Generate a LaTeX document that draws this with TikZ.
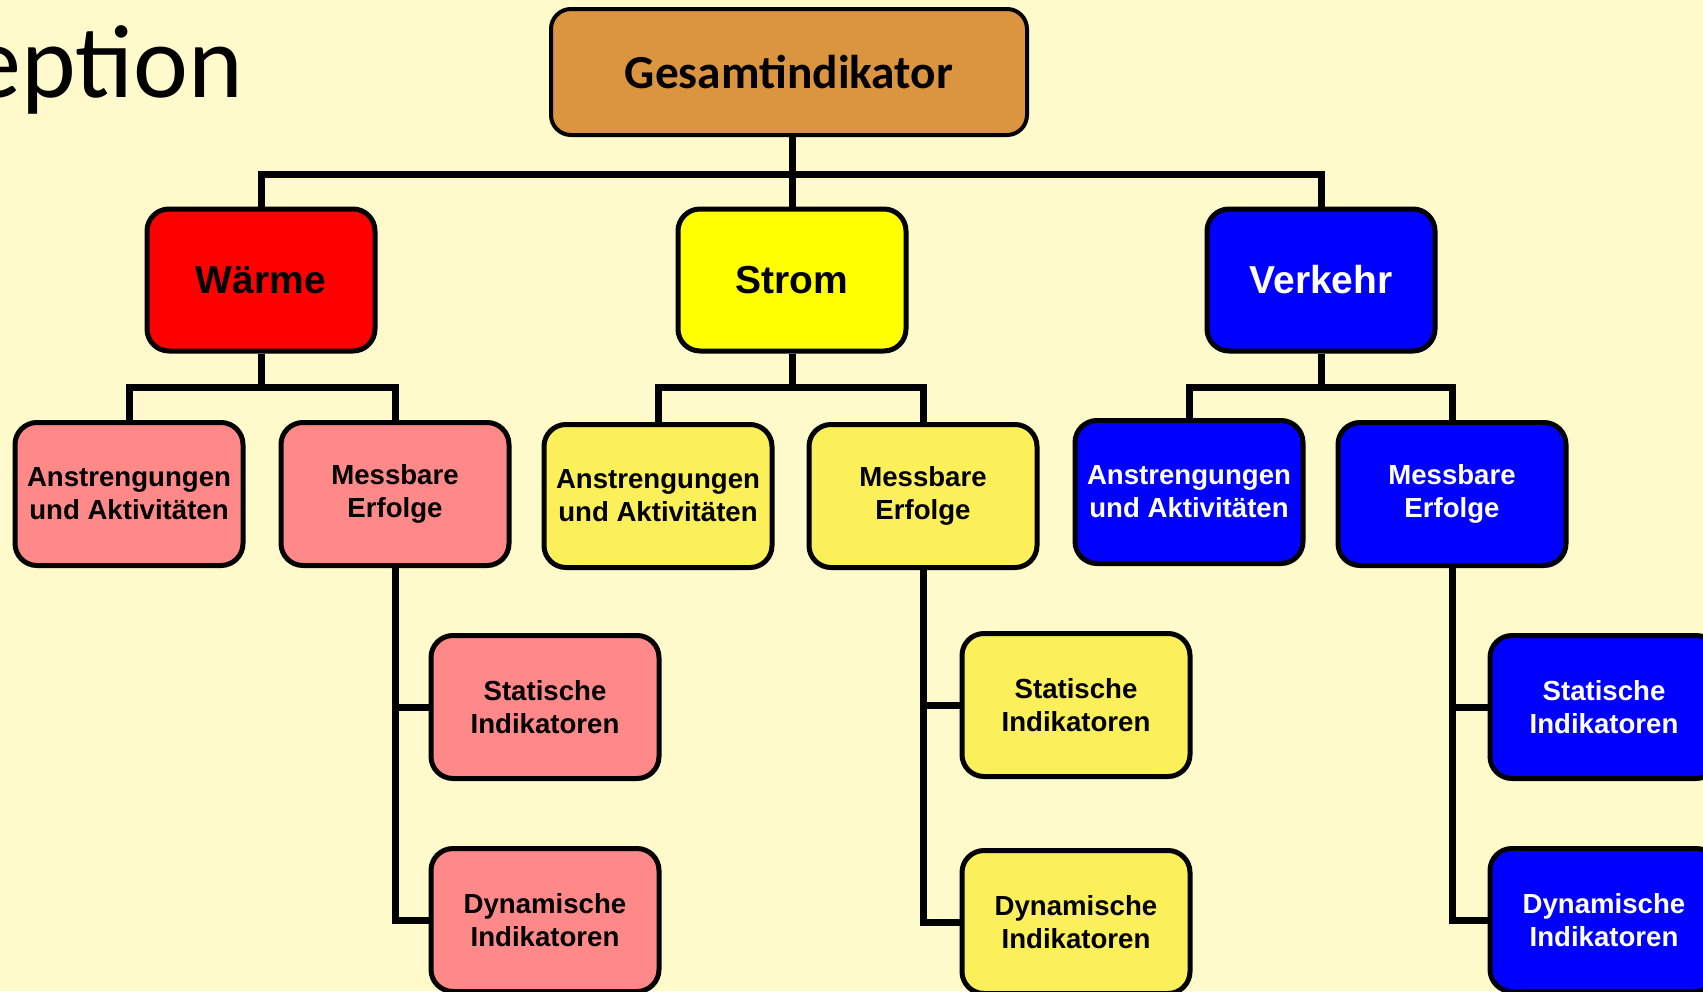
\documentclass[tikz,border=0pt]{standalone}
\usepackage{fontspec}
\setmainfont{Liberation Sans}
\newfontfamily\calfont{Carlito}
\usetikzlibrary{positioning}
\definecolor{bgyellow}{RGB}{255,250,204}
\definecolor{rootorange}{RGB}{219,148,64}
\definecolor{heatred}{RGB}{255,0,0}
\definecolor{heatpink}{RGB}{255,136,136}
\definecolor{powyellow}{RGB}{255,255,0}
\definecolor{powlight}{RGB}{252,240,90}
\definecolor{trafblue}{RGB}{0,0,255}
\tikzset{
    %Define style for boxes
    rootbox/.style={
             rectangle, rounded corners=10pt,
             draw=black, line width=2pt,
             fill=rootorange,
             minimum width=238pt, minimum height=63pt,
             font=\calfont\fontsize{23.7}{28}\selectfont\bfseries},
    sectorbox/.style={
             rectangle, rounded corners=11pt,
             draw=black, line width=2.5pt,
             minimum width=114pt, minimum height=71pt,
             font=\fontsize{19.5}{23}\selectfont\bfseries},
    subbox/.style={
             rectangle, rounded corners=11pt,
             draw=black, line width=2.5pt,
             minimum width=114pt, minimum height=71.5pt,
             align=center, inner sep=1pt,
             font=\fontsize{13.8}{16.5}\selectfont\bfseries},
    % Define connector style
    treeline/.style={
            draw=black,
            line width=3.5pt}
}

\begin{document}
\begin{tikzpicture}[x=0.5pt, y=-0.5pt]
 \fill[bgyellow] (0,0) rectangle (1703,991);
 \useasboundingbox (0,0) rectangle (1703,991);
 \node[anchor=base west, inner sep=0pt, font=\calfont\fontsize{52}{60}\selectfont] (title) at (-31,97) {eption};
 % root and sectors
 \node[rootbox] (total) at (789,72) {Gesamtindikator};
 \node[sectorbox, fill=heatred] (heat) at (261,280) {Wärme};
 \node[sectorbox, fill=powyellow] (power) at (792,280) {Strom};
 \node[sectorbox, fill=trafblue, text=white] (traffic) at (1321,280) {Verkehr};
 % second level
 \node[subbox, fill=heatpink] (heateff) at (129,494) {Anstrengungen\\und Aktivitäten};
 \node[subbox, fill=heatpink] (heatres) at (395,494) {Messbare\\Erfolge};
 \node[subbox, fill=powlight] (poweff) at (658,496) {Anstrengungen\\und Aktivitäten};
 \node[subbox, fill=powlight] (powres) at (923,496) {Messbare\\Erfolge};
 \node[subbox, fill=trafblue, text=white] (trafeff) at (1189,492) {Anstrengungen\\und Aktivitäten};
 \node[subbox, fill=trafblue, text=white] (trafres) at (1452,494) {Messbare\\Erfolge};
 % third level
 \node[subbox, fill=heatpink] (heatstat) at (545,707) {Statische\\Indikatoren};
 \node[subbox, fill=heatpink] (heatdyn) at (545,920) {Dynamische\\Indikatoren};
 \node[subbox, fill=powlight] (powstat) at (1076,705) {Statische\\Indikatoren};
 \node[subbox, fill=powlight] (powdyn) at (1076,922) {Dynamische\\Indikatoren};
 \node[subbox, fill=trafblue, text=white] (trafstat) at (1604,707) {Statische\\Indikatoren};
 \node[subbox, fill=trafblue, text=white] (trafdyn) at (1604,920) {Dynamische\\Indikatoren};
 % connectors
 \draw[treeline] (power.north |- total.south) -- (power.north);
 \draw[treeline] (heat.north) |- (792,174) -| (traffic.north);
 \draw[treeline] (heat.south) -- (261,387);
 \draw[treeline] (heateff.north) |- (261,387) -| (heatres.north);
 \draw[treeline] (power.south) -- (792,387);
 \draw[treeline] (poweff.north) |- (792,387) -| (powres.north);
 \draw[treeline] (traffic.south) -- (1321,387);
 \draw[treeline] (trafeff.north) |- (1321,387) -| (trafres.north);
 \draw[treeline] (heatres.south) |- (heatdyn.west);
 \draw[treeline] (heatres.south |- heatstat.west) -- (heatstat.west);
 \draw[treeline] (powres.south) |- (powdyn.west);
 \draw[treeline] (powres.south |- powstat.west) -- (powstat.west);
 \draw[treeline] (trafres.south) |- (trafdyn.west);
 \draw[treeline] (trafres.south |- trafstat.west) -- (trafstat.west);
\end{tikzpicture}
\end{document}
